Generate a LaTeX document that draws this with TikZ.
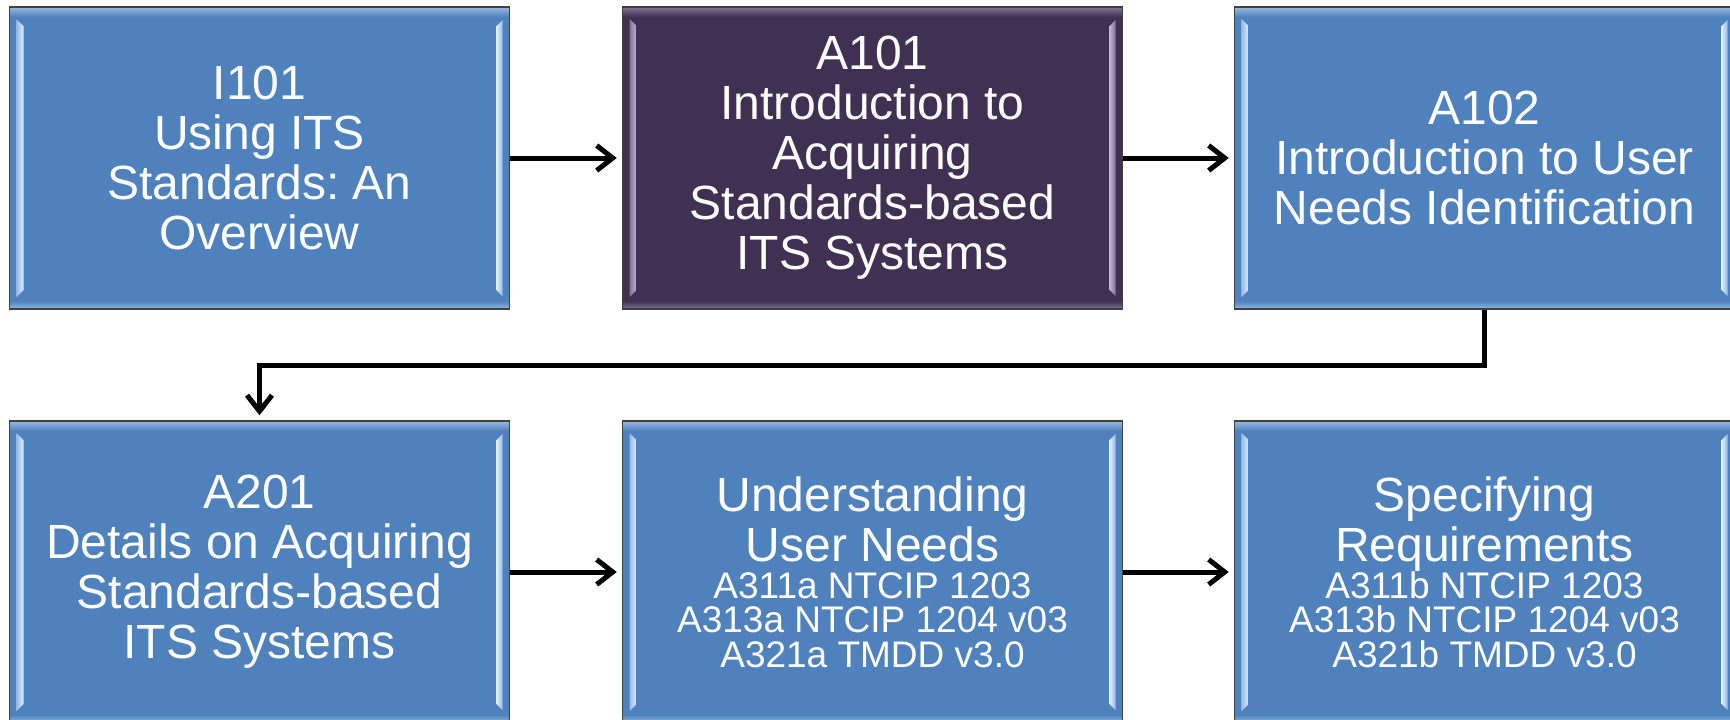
\documentclass[tikz,border=0pt]{standalone}
\usepackage{fontspec}
\setmainfont{Liberation Sans}
\usetikzlibrary{arrows.meta,calc}
\frenchspacing
\definecolor{boxblue}{RGB}{79,129,189}
\definecolor{boxbluelight}{RGB}{150,185,225}
\definecolor{boxbluehi}{RGB}{220,238,255}
\definecolor{boxpurple}{RGB}{64,49,82}
\definecolor{boxpurplelight}{RGB}{130,115,150}
\definecolor{boxpurplehi}{RGB}{190,178,205}
\tikzset{
  bevel/.style n args={3}{
    fill=#1,
    path picture={
      \path (path picture bounding box.north west) coordinate (pnw)
            (path picture bounding box.south east) coordinate (pse);
      \shade[top color=#2, bottom color=#1] (pnw) rectangle ($(pse|-pnw)+(0,-5pt)$);
      \shade[top color=#1, bottom color=#2] ($(pnw|-pse)+(0,4pt)$) rectangle (pse);
      \shade[left color=#2, right color=#3]
        ($(pnw)+(3.5pt,-6pt)$) -- ($(pnw)+(7pt,-9.5pt)$) --
        ($(pnw|-pse)+(7pt,9.5pt)$) -- ($(pnw|-pse)+(3.5pt,6pt)$) -- cycle;
      \shade[left color=#3, right color=#2]
        ($(pse|-pnw)+(-6.5pt,-9.5pt)$) -- ($(pse|-pnw)+(-3.5pt,-6.5pt)$) --
        ($(pse)+(-3.5pt,6.5pt)$) -- ($(pse)+(-6.5pt,9.5pt)$) -- cycle;
    }
  },
  card/.style={rectangle, draw=black!75, line width=0.75pt,
    minimum width=250pt, minimum height=151pt, inner sep=0pt,
    text=white, align=center, font=\fontsize{24pt}{25pt}\selectfont},
  bluecard/.style={card, bevel={boxblue}{boxbluelight}{boxbluehi}},
  purplecard/.style={card, bevel={boxpurple}{boxpurplelight}{boxpurplehi}},
  link/.style={line width=2.5pt, -{Straight Barb[length=8pt,width=12.5pt,line width=2.5pt]}, shorten >=2.5pt},
}
\newcommand{\smalltxt}{\fontsize{18.5pt}{18pt}\selectfont}
\begin{document}
\begin{tikzpicture}[x=0.5pt,y=-0.5pt]
\clip (0,0) rectangle (1730,719);
\fill[white] (0,0) rectangle (1730,719);
\node[bluecard] (i101) at (259.5,158) {I101\\Using ITS\\Standards: An\\Overview};
\node[purplecard] (a101) at (872.5,158) {A101\\Introduction to\\Acquiring\\Standards-based\\ITS Systems};
\node[bluecard] (a102) at (1484.5,158) {A102\\Introduction to User\\Needs Identification};
\node[bluecard] (a201) at (259.5,572) {A201\\Details on Acquiring\\Standards-based\\ITS Systems};
\node[bluecard] (und) at (872.5,572) {Understanding\\User Needs\\[-6.5pt]{\smalltxt A311a NTCIP 1203}\\[-7.8pt]{\smalltxt A313a NTCIP 1204 v03}\\[-7.8pt]{\smalltxt A321a TMDD v3.0}};
\node[bluecard] (spec) at (1484.5,572) {Specifying\\Requirements\\[-6.5pt]{\smalltxt A311b NTCIP 1203}\\[-7.8pt]{\smalltxt A313b NTCIP 1204 v03}\\[-7.8pt]{\smalltxt A321b TMDD v3.0}};
\draw[link] (i101) -- (a101);
\draw[link] (a101) -- (a102);
\draw[link] (a201) -- (und);
\draw[link] (und) -- (spec);
\draw[link] (a102.south) -- ++(0,-28pt) -| (a201.north);
\end{tikzpicture}
\end{document}
